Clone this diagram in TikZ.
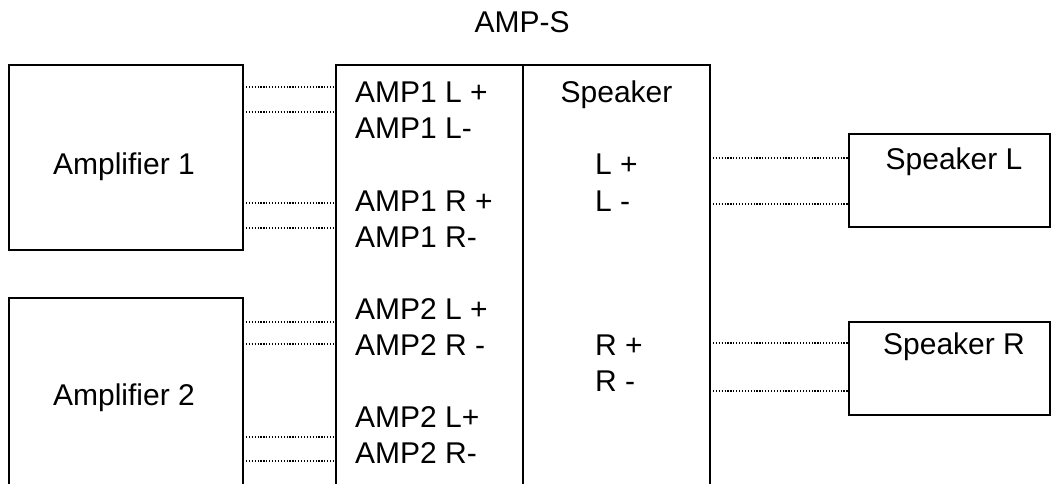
\documentclass[tikz,border=0pt]{standalone}
\usepackage{fontspec}
\setmainfont{Liberation Sans}
\begin{document}
\begin{tikzpicture}[x=1pt,y=-1pt,
  box/.style={draw=black, line width=1.5pt, inner sep=0pt, outer sep=0pt, anchor=north west},
  wire/.style={line width=1.3pt, dash pattern=on 1.2pt off 1.7pt},
  lbl/.style={font=\fontsize{30}{36}\selectfont, inner sep=0pt, text=black},
]
\useasboundingbox (0,0) rectangle (1052,484);
\clip (0,0) rectangle (1052,484);
% boxes
\node[box, minimum width=234pt, minimum height=185pt] (amp1) at (9,65) {};
\node[box, minimum width=234pt, minimum height=220pt] (amp2) at (9,298) {};
\node[box, minimum width=374pt, minimum height=440pt] (mid) at (336,65) {};
\draw[line width=1.5pt] (mid.north) -- (mid.south);
\node[box, minimum width=201pt, minimum height=93pt] (spkL) at (849,134) {};
\node[box, minimum width=201pt, minimum height=93pt] (spkR) at (849,322) {};
% wires
\foreach \yy in {87,112,203,228}
  \draw[wire] (amp1.east |- 0,\yy) -- (mid.west |- 0,\yy);
\foreach \yy in {322,344,437,461}
  \draw[wire] (amp2.east |- 0,\yy) -- (mid.west |- 0,\yy);
\foreach \yy in {158,204}
  \draw[wire] (mid.east |- 0,\yy) -- (spkL.west |- 0,\yy);
\foreach \yy in {343,391}
  \draw[wire] (mid.east |- 0,\yy) -- (spkR.west |- 0,\yy);
% texts
\node[lbl] (title) at (522,22) {AMP-S};
\node[lbl] (ta1) at (124,167) {Amplifier 1};
\node[lbl] (ta2) at (124,398) {Amplifier 2};
\node[lbl] (tsl) at (954,162) {Speaker L};
\node[lbl] (tsr) at (954,347) {Speaker R};
\node[lbl, anchor=base west] (l1) at (355,103) {AMP1 L +};
\node[lbl, anchor=base west] (l2) at (355,139) {AMP1 L-};
\node[lbl, anchor=base west] (l3) at (355,211) {AMP1 R +};
\node[lbl, anchor=base west] (l4) at (355,247) {AMP1 R-};
\node[lbl, anchor=base west] (l5) at (355,319) {AMP2 L +};
\node[lbl, anchor=base west] (l6) at (355,355) {AMP2 R -};
\node[lbl, anchor=base west] (l7) at (355,427) {AMP2 L+};
\node[lbl, anchor=base west] (l8) at (355,463) {AMP2 R-};
\node[lbl, anchor=base] (sh) at (616.5,103) {Speaker};
\node[lbl, anchor=base west] (s1) at (595,175) {L +};
\node[lbl, anchor=base west] (s2) at (595,211) {L -};
\node[lbl, anchor=base west] (s3) at (595,355) {R +};
\node[lbl, anchor=base west] (s4) at (595,391) {R -};
\end{tikzpicture}
\end{document}
